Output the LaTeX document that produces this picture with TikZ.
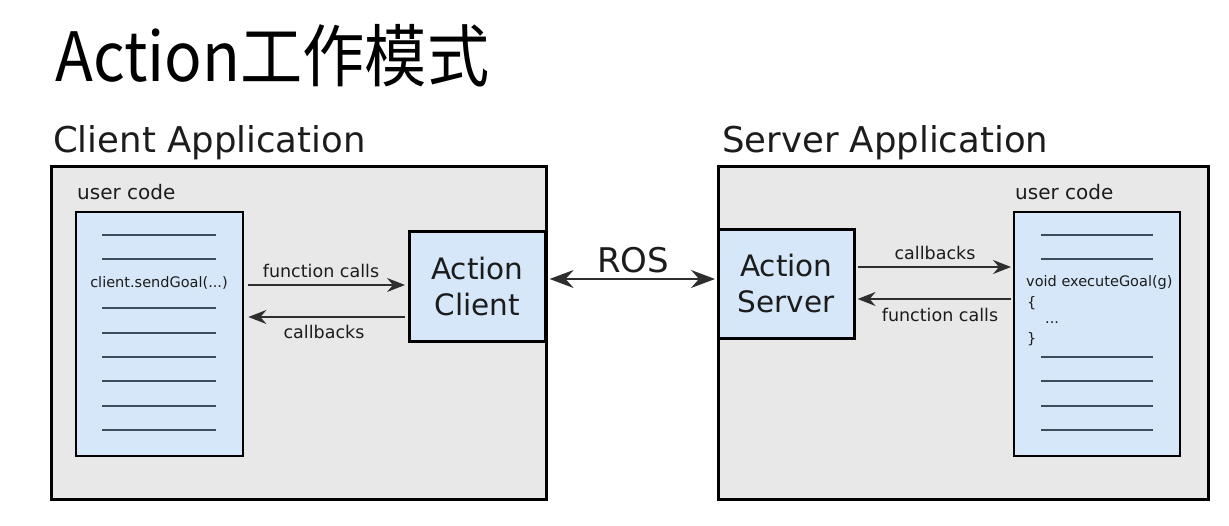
\documentclass[tikz,border=0pt]{standalone}
\usepackage{fontspec}
\setmainfont{DejaVu Sans}
\newfontfamily\cjk{Noto Sans CJK SC}
\usetikzlibrary{arrows.meta}
\definecolor{appgray}{HTML}{E8E8E8}
\definecolor{boxblue}{HTML}{D5E7F8}
\definecolor{codeline}{HTML}{3A4E5F}
\definecolor{txt}{HTML}{1C1C1C}
\definecolor{arrgray}{HTML}{2E2E2E}
\tikzset{
  appbox/.style={draw=black, line width=3pt, fill=appgray, inner sep=0pt, anchor=north west},
  codebox/.style={draw=black, line width=2.4pt, fill=boxblue, inner sep=0pt, anchor=north west},
  actbox/.style={draw=black, line width=2.6pt, fill=boxblue, inner sep=0pt, anchor=north west,
    align=center, text=txt, font=\fontsize{29.5}{36}\selectfont},
  cline/.style={draw=codeline, line width=2.2pt},
  arr/.style={draw=arrgray, line width=1.6pt, -{Stealth[length=18pt,width=14pt,inset=6pt]}},
  rosarr/.style={draw=arrgray, line width=1.8pt, {Stealth[length=24pt,width=18pt,inset=8pt]}-{Stealth[length=24pt,width=18pt,inset=8pt]}},
  lbl/.style={text=txt, inner sep=0pt, font=\fontsize{17.5}{20}\selectfont, anchor=base},
  code/.style={text=txt, inner sep=0pt, font=\fontsize{14.5}{17}\selectfont, anchor=base west},
  head/.style={text=txt, inner sep=0pt, font=\fontsize{35.5}{40}\selectfont, anchor=base west},
  ucode/.style={text=txt, inner sep=0pt, font=\fontsize{20}{24}\selectfont, anchor=base west}
}
\begin{document}
\begin{tikzpicture}[x=1pt,y=-1pt]
\useasboundingbox[fill=white] (0,0) rectangle (1229,526);
% title
\node[inner sep=0pt, anchor=base west, font=\cjk\fontsize{68}{80}\selectfont] (title) at (55,82) {\scalebox{0.915}[1]{Action工作模式}};
% headings
\node[head] (chead) at (53,153) {Client Application};
\node[head] (shead) at (722,153) {Server Application};
% client application
\node[appbox, minimum width=495pt, minimum height=333pt] (capp) at (50,165) {};
\node[ucode] (cuc) at (77,200) {user code};
\node[codebox, minimum width=167pt, minimum height=244pt] (ccode) at (75,211) {};
\foreach \yy in {235,259,308,333,357,381,406,430}
  \draw[cline] (102,\yy) -- (216,\yy);
\node[code, anchor=base] (csend) at (159,288) {client.sendGoal(...)};
\node[actbox, minimum width=136pt, minimum height=110pt] (aclient) at (408,230) {Action\\Client};
% server application
\node[appbox, minimum width=490pt, minimum height=333pt] (sapp) at (717,165) {};
\node[ucode] (suc) at (1015,200) {user code};
\node[codebox, minimum width=166pt, minimum height=244pt] (scode) at (1013,211) {};
\foreach \yy in {235,259,357,381,406,430}
  \draw[cline] (1041,\yy) -- (1153,\yy);
\node[code] (sexec) at (1026,287) {void executeGoal(g)};
\node[code] (sopen) at (1027,308) {\{};
\node[code] (sdots) at (1045,324) {...};
\node[code] (sclose) at (1027,344) {\}};
\node[actbox, minimum width=136pt, minimum height=109pt] (aserver) at (717,228) {Action\\Server};
% client arrows
\draw[arr, shorten <=4pt, shorten >=3pt] (ccode.east |- 0,285) -- (aclient.west |- 0,285);
\node[lbl] (cfc) at (321,278) {function calls};
\draw[arr, shorten <=3pt, shorten >=4pt] (aclient.west |- 0,317) -- (ccode.east |- 0,317);
\node[lbl] (ccb) at (324,339) {callbacks};
% ROS
\draw[rosarr, shorten <=3pt, shorten >=2pt] (aclient.east |- 0,279) -- (aserver.west |- 0,279);
\node[inner sep=0pt, anchor=base, text=txt, font=\fontsize{34}{40}\selectfont] (ros) at (633,273) {ROS};
% server arrows
\draw[arr, shorten <=2pt, shorten >=2pt] (aserver.east |- 0,267) -- (scode.west |- 0,267);
\node[lbl] (scb) at (935,260) {callbacks};
\draw[arr, shorten <=2pt, shorten >=2pt] (scode.west |- 0,299) -- (aserver.east |- 0,299);
\node[lbl] (sfc) at (940,322) {function calls};
\end{tikzpicture}
\end{document}
